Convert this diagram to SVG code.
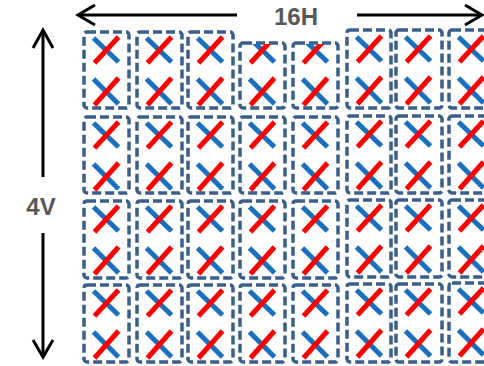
<svg xmlns="http://www.w3.org/2000/svg" xmlns:xlink="http://www.w3.org/1999/xlink" width="484" height="366" viewBox="0 0 484 366">
<style>
.box{fill:none;stroke:#3A5F8B;stroke-width:3.5;stroke-dasharray:9 4;}
.bl{stroke:#1A6FBF;stroke-width:5;}
.rd{stroke:#FF0000;stroke-width:5;}
.ar{fill:none;stroke:#000;stroke-width:3;}
.lbl{font-family:"Liberation Sans",Arial,sans-serif;font-weight:bold;font-size:24px;fill:#595959;text-anchor:middle;}
</style>
<defs>
<g id="xx">
<line class="bl" x1="9.5" y1="6" x2="34.5" y2="30"/>
<line class="rd" x1="10.5" y1="31" x2="34.5" y2="5"/>
<line class="bl" x1="9.5" y1="47" x2="34.5" y2="72"/>
<line class="rd" x1="10.5" y1="73" x2="34.5" y2="46"/>
</g>
<clipPath id="short"><rect x="0" y="12" width="45" height="64"/></clipPath>
</defs>
<rect width="484" height="366" fill="#fff"/>
<g id="connectors">
<line class="ar" x1="78" y1="15" x2="237" y2="15"/>
<polyline class="ar" points="95,5 78,15 95,25"/>
<line class="ar" x1="357" y1="15" x2="482" y2="15"/>
<polyline class="ar" points="465,5 482,15 465,25"/>
<line class="ar" x1="43" y1="30" x2="43" y2="177"/>
<polyline class="ar" points="33,48 43,30 53,48"/>
<line class="ar" x1="43" y1="233" x2="43" y2="357"/>
<polyline class="ar" points="33,340 43,357 53,340"/>
</g>
<g id="labels">
<text class="lbl" x="296" y="25">16H</text>
<text class="lbl" x="41" y="215">4V</text>
</g>
<g id="row1">
<g id="c1-1" transform="translate(84,32)"><rect class="box" width="45" height="76" rx="3"/><use xlink:href="#xx"/></g>
<g id="c1-2" transform="translate(137,32)"><rect class="box" width="45" height="76" rx="3"/><use xlink:href="#xx"/></g>
<g id="c1-3" transform="translate(188,32)"><rect class="box" width="45" height="76" rx="3"/><use xlink:href="#xx"/></g>
<g id="c1-4" transform="translate(240,32)"><rect class="box" y="11" width="45" height="65" rx="3"/><use xlink:href="#xx" clip-path="url(#short)"/></g>
<g id="c1-5" transform="translate(293,32)"><rect class="box" y="11" width="45" height="65" rx="3"/><use xlink:href="#xx" clip-path="url(#short)"/></g>
<g id="c1-6" transform="translate(347,31)"><rect class="box" y="-1" width="44" height="78" rx="3"/><use xlink:href="#xx"/></g>
<g id="c1-7" transform="translate(396,31)"><rect class="box" y="-1" width="46" height="78" rx="3"/><use xlink:href="#xx"/></g>
<g id="c1-8" transform="translate(449,31)"><rect class="box" y="-1" width="46" height="78" rx="3"/><use xlink:href="#xx"/></g>
</g>
<g id="row2">
<g id="c2-1" transform="translate(84,117)"><rect class="box" width="45" height="76" rx="3"/><use xlink:href="#xx"/></g>
<g id="c2-2" transform="translate(137,117)"><rect class="box" width="45" height="76" rx="3"/><use xlink:href="#xx"/></g>
<g id="c2-3" transform="translate(188,117)"><rect class="box" width="45" height="76" rx="3"/><use xlink:href="#xx"/></g>
<g id="c2-4" transform="translate(240,117)"><rect class="box" width="45" height="76" rx="3"/><use xlink:href="#xx"/></g>
<g id="c2-5" transform="translate(293,117)"><rect class="box" width="45" height="76" rx="3"/><use xlink:href="#xx"/></g>
<g id="c2-6" transform="translate(347,116)"><rect class="box" width="44" height="77" rx="3"/><use xlink:href="#xx"/></g>
<g id="c2-7" transform="translate(396,116)"><rect class="box" width="46" height="77" rx="3"/><use xlink:href="#xx"/></g>
<g id="c2-8" transform="translate(449,116)"><rect class="box" width="46" height="77" rx="3"/><use xlink:href="#xx"/></g>
</g>
<g id="row3">
<g id="c3-1" transform="translate(84,201)"><rect class="box" width="45" height="77" rx="3"/><use xlink:href="#xx"/></g>
<g id="c3-2" transform="translate(137,201)"><rect class="box" width="45" height="77" rx="3"/><use xlink:href="#xx"/></g>
<g id="c3-3" transform="translate(188,201)"><rect class="box" width="45" height="77" rx="3"/><use xlink:href="#xx"/></g>
<g id="c3-4" transform="translate(240,201)"><rect class="box" width="45" height="77" rx="3"/><use xlink:href="#xx"/></g>
<g id="c3-5" transform="translate(293,201)"><rect class="box" width="45" height="77" rx="3"/><use xlink:href="#xx"/></g>
<g id="c3-6" transform="translate(347,200)"><rect class="box" width="44" height="77" rx="3"/><use xlink:href="#xx"/></g>
<g id="c3-7" transform="translate(396,200)"><rect class="box" width="46" height="77" rx="3"/><use xlink:href="#xx"/></g>
<g id="c3-8" transform="translate(449,200)"><rect class="box" width="46" height="77" rx="3"/><use xlink:href="#xx"/></g>
</g>
<g id="row4">
<g id="c4-1" transform="translate(84,285)"><rect class="box" width="45" height="77" rx="3"/><use xlink:href="#xx"/></g>
<g id="c4-2" transform="translate(137,285)"><rect class="box" width="45" height="77" rx="3"/><use xlink:href="#xx"/></g>
<g id="c4-3" transform="translate(188,285)"><rect class="box" width="45" height="77" rx="3"/><use xlink:href="#xx"/></g>
<g id="c4-4" transform="translate(240,285)"><rect class="box" width="45" height="77" rx="3"/><use xlink:href="#xx"/></g>
<g id="c4-5" transform="translate(293,285)"><rect class="box" width="45" height="77" rx="3"/><use xlink:href="#xx"/></g>
<g id="c4-6" transform="translate(347,284)"><rect class="box" width="44" height="78" rx="3"/><use xlink:href="#xx"/></g>
<g id="c4-7" transform="translate(396,284)"><rect class="box" width="46" height="78" rx="3"/><use xlink:href="#xx"/></g>
<g id="c4-8" transform="translate(449,283)"><rect class="box" width="46" height="79" rx="3"/><use xlink:href="#xx"/></g>
</g>
</svg>
